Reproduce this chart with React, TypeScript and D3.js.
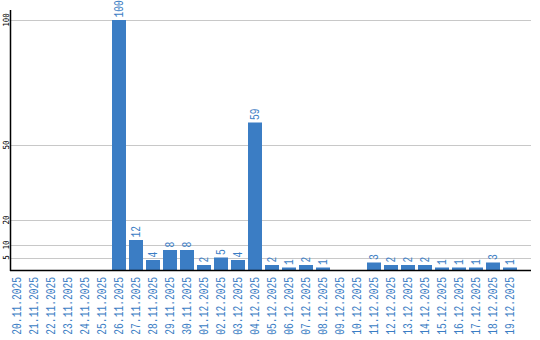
import React from "react";
import * as d3 from "d3";

const dates = [
  "20.11.2025","21.11.2025","22.11.2025","23.11.2025","24.11.2025","25.11.2025",
  "26.11.2025","27.11.2025","28.11.2025","29.11.2025","30.11.2025","01.12.2025",
  "02.12.2025","03.12.2025","04.12.2025","05.12.2025","06.12.2025","07.12.2025",
  "08.12.2025","09.12.2025","10.12.2025","11.12.2025","12.12.2025","13.12.2025",
  "14.12.2025","15.12.2025","16.12.2025","17.12.2025","18.12.2025","19.12.2025",
];
const values = [0,0,0,0,0,0,100,12,4,8,8,2,5,4,59,2,1,2,1,0,0,3,2,2,2,1,1,1,3,1];
const yTicks = [5, 10, 20, 50, 100];

const W = 540, H = 340;
const BLUE = "#3b7dc4";
const MONO = "'Liberation Mono', 'DejaVu Sans Mono', monospace";
const TICKFONT = "'DejaVu Sans Mono', monospace";

export default function App() {
  const x = d3.scaleBand<string>().domain(dates).range([10, 517]).paddingInner(3 / 17).paddingOuter(0);
  const y = d3.scaleLinear().domain([0, 100]).range([270, 20]);
  const axisX = 10.5;
  const right = 531;

  return (
    <svg width={W} height={H} style={{ position: "absolute", left: 0, top: 0, background: "#fff" }}>
      {yTicks.map((t) => (
        <line key={"g" + t} x1={axisX} x2={right} y1={Math.round(y(t)) + 0.5} y2={Math.round(y(t)) + 0.5} stroke="#c8c8c8" strokeWidth={1} />
      ))}
      {yTicks.map((t) => {
        const cy = Math.max(y(t), 17);
        return (
          <text key={"t" + t} transform={`translate(6.5,${cy}) rotate(-90) scale(0.9,1)`} textAnchor="middle" dy="0.35em"
            fontFamily={TICKFONT} fontSize={8.4} fill="#000">{t}</text>
        );
      })}
      {dates.map((d, i) => {
        const v = values[i];
        if (!v) return null;
        const bx = x(d)!;
        const by = y(v);
        return (
          <g key={"b" + d}>
            <rect x={bx} y={by} width={x.bandwidth()} height={y(0) - by} fill={BLUE} />
            <text transform={`translate(${bx + x.bandwidth() / 2},${by - 2.5}) rotate(-90) scale(0.74,1)`} textAnchor="start" dy="0.34em"
              fontFamily={MONO} fontSize={13} fill={BLUE}>{v}</text>
          </g>
        );
      })}
      {dates.map((d) => (
        <text key={"l" + d} transform={`translate(${x(d)! + x.bandwidth() / 2},277) rotate(-90) scale(0.74,1)`} textAnchor="end" dy="0.34em"
          fontFamily={MONO} fontSize={13} fill={BLUE}>{d}</text>
      ))}
      <line x1={axisX} x2={axisX} y1={10} y2={271} stroke="#000" strokeWidth={1.5} />
      <line x1={10} x2={right} y1={270.5} y2={270.5} stroke="#000" strokeWidth={1.5} />
    </svg>
  );
}
